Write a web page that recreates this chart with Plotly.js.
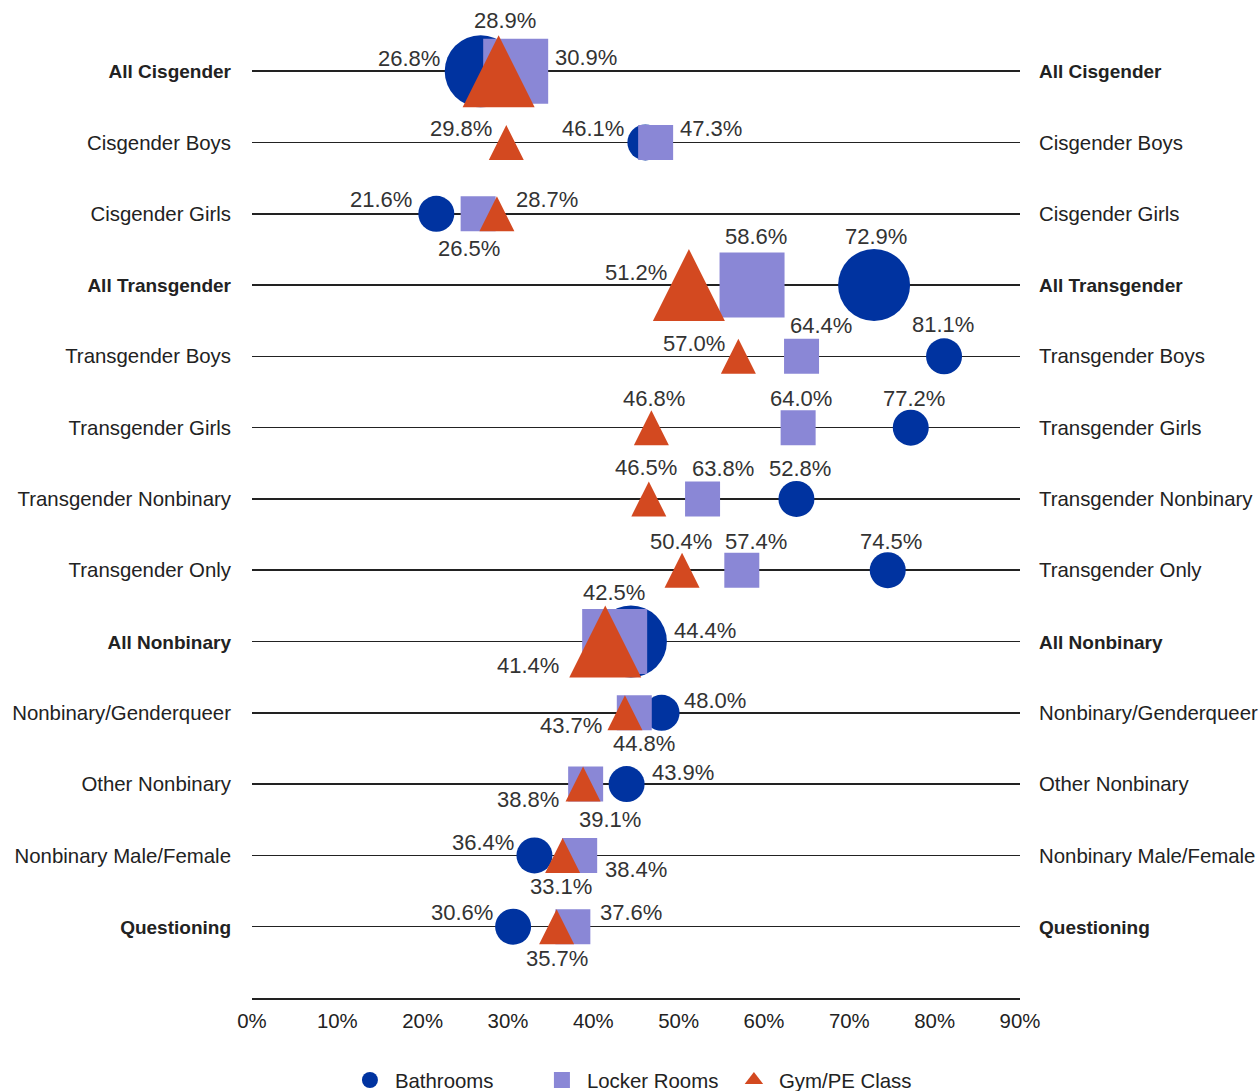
<!DOCTYPE html>
<html><head><meta charset="utf-8">
<script src="https://cdn.plot.ly/plotly-3.0.1.min.js"></script>
<style>html,body{margin:0;padding:0;background:#fff;}#chart{width:1260px;height:1091px;}</style>
</head><body><div id="chart"></div>
<script>
// ---------- DATA ----------
const categories = ["All Cisgender","Cisgender Boys","Cisgender Girls","All Transgender","Transgender Boys","Transgender Girls","Transgender Nonbinary","Transgender Only","All Nonbinary","Nonbinary/Genderqueer","Other Nonbinary","Nonbinary Male/Female","Questioning"];
const boldCategories = ["All Cisgender","All Transgender","All Nonbinary","Questioning"];
const bathrooms   = [26.8, 46.1, 21.6, 72.9, 81.1, 77.2, 63.8, 74.5, 44.4, 48.0, 43.9, 33.1, 30.6];
const lockerRooms = [30.9, 47.3, 26.5, 58.6, 64.4, 64.0, 52.8, 57.4, 42.5, 44.8, 39.1, 38.4, 37.6];
const gymPE       = [28.9, 29.8, 28.7, 51.2, 57.0, 46.8, 46.5, 50.4, 41.4, 43.7, 38.8, 36.4, 35.7];
// value labels as printed next to each marker
const bathroomLabels = ["26.8%","46.1%","21.6%","72.9%","81.1%","77.2%","52.8%","74.5%","44.4%","48.0%","43.9%","36.4%","30.6%"];
const lockerLabels   = ["30.9%","47.3%","26.5%","58.6%","64.4%","64.0%","63.8%","57.4%","42.5%","44.8%","39.1%","38.4%","37.6%"];
const gymLabels      = ["28.9%","29.8%","28.7%","51.2%","57.0%","46.8%","46.5%","50.4%","41.4%","43.7%","38.8%","33.1%","35.7%"];
const seriesNames = ["Bathrooms","Locker Rooms","Gym/PE Class"];
const xTickVals = [0,10,20,30,40,50,60,70,80,90];

// ---------- STYLE / PLACEMENT ----------
const W = 1260, H = 1091;
const M = {l:252, r:240, t:7, b:93};
const yRange = [13.0, -0.9];
const unitPx = (H - M.t - M.b) / Math.abs(yRange[0]-yRange[1]);
const colors = {bath:"#0033a0", locker:"#8a87d6", gym:"#d34920"};
const isTotal = categories.map(c => c.startsWith("All "));
const circleSize = isTotal.map(t => t ? 72 : 36);
const squareSize = isTotal.map(t => t ? 65 : 35);
const triSize    = isTotal.map(t => t ? 72 : 35);
// [anchor, dx, dy] pixel placement of each value label relative to its marker
const bathPos = [["right",-40,-13],["right",-20,-14],["right",-23,-14],["center",2,-49],["center",-1,-32],["center",3,-29],["center",4,-30],["center",3,-29],["left",42,-11],["left",21,-12],["left",24,-12],["right",-19,-13],["right",-19,-14]];
const lockerPos = [["left",38,-14],["left",23,-14],["center",-9,35],["center",4,-49],["center",19,-31],["center",3,-29],["center",20,-30],["center",14,-29],["center",-1,-49],["center",10,31],["center",24,35],["left",24,14],["left",26,-14]];
const gymPos = [["center",6,-51],["right",-13,-14],["left",18,-14],["right",-21,-13],["right",-12,-13],["center",3,-29],["center",-3,-31],["center",-1,-29],["right",-45,24],["right",-22,13],["right",-23,15],["center",-2,31],["center",0,32]];

const rowIdx = categories.map((c,i) => i);
const tickText = categories.map(c => boldCategories.includes(c)
  ? `<span style="font-size:19px"><b>${c}</b></span>`
  : c);

const traces = [
  {type:"scatter", mode:"markers", x:bathrooms, y:rowIdx, showlegend:false, hoverinfo:"skip", cliponaxis:false,
   marker:{symbol:"circle", size:circleSize, color:colors.bath, opacity:1, line:{width:0}}},
  {type:"scatter", mode:"markers", x:lockerRooms, y:rowIdx, showlegend:false, hoverinfo:"skip", cliponaxis:false,
   marker:{symbol:"square", size:squareSize, color:colors.locker, opacity:1, line:{width:0}}},
  {type:"scatter", mode:"markers", x:gymPE, y:rowIdx.map((r,i) => r - (triSize[i]/2)/unitPx), showlegend:false, hoverinfo:"skip", cliponaxis:false,
   marker:{symbol:"arrow-up", size:triSize, color:colors.gym, opacity:1, line:{width:0}}},
  // legend entries
  {type:"scatter", mode:"markers", x:[null], y:[null], name:seriesNames[0], marker:{symbol:"circle", size:16, color:colors.bath, opacity:1}},
  {type:"scatter", mode:"markers", x:[null], y:[null], name:seriesNames[1], marker:{symbol:"square", size:16, color:colors.locker, opacity:1}},
  {type:"scatter", mode:"markers", x:[null], y:[null], name:seriesNames[2], marker:{symbol:"triangle-up", size:16, color:colors.gym, opacity:1}},
  // right-side axis carrier
  {type:"scatter", mode:"markers", x:[null], y:[null], yaxis:"y2", showlegend:false, hoverinfo:"skip"}
];

const labelFont = {family:"Liberation Sans, Arial, sans-serif", size:22, color:"#333"};
const annotations = [];
function addLabels(vals, labels, pos){
  vals.forEach((v,i) => {
    const [anchor, dx, dy] = pos[i];
    annotations.push({x:v, y:i, xref:"x", yref:"y", text:labels[i], showarrow:false,
      xanchor:anchor, yanchor:"middle", xshift:dx, yshift:-dy, font:labelFont, borderpad:0});
  });
}
addLabels(bathrooms, bathroomLabels, bathPos);
addLabels(lockerRooms, lockerLabels, lockerPos);
addLabels(gymPE, gymLabels, gymPos);

const yCommon = {range:yRange, tickmode:"array", tickvals:rowIdx, ticktext:tickText, zeroline:false,
  ticks:"", tickfont:{family:"Liberation Sans, Arial, sans-serif", size:20.4, color:"#222"}, fixedrange:true};

const layout = {
  width:W, height:H,
  margin:{l:M.l, r:M.r, t:M.t, b:M.b, autoexpand:false},
  paper_bgcolor:"#fff", plot_bgcolor:"#fff",
  showlegend:true,
  legend:{orientation:"h", x:0.121, xanchor:"left", y:-0.083, yanchor:"middle",
    font:{family:"Liberation Sans, Arial, sans-serif", size:20.4, color:"#222"}, itemwidth:40,
    entrywidth:137, entrywidthmode:"pixels", traceorder:"normal"},
  xaxis:{range:[0,90], tickmode:"array", tickvals:xTickVals, ticktext:xTickVals.map(v => v+"%"),
    showgrid:false, zeroline:false, showline:true, linecolor:"#222", linewidth:2, ticks:"",
    ticklabelstandoff:4, tickfont:{family:"Liberation Sans, Arial, sans-serif", size:20.4, color:"#222"}, fixedrange:true},
  yaxis:Object.assign({}, yCommon, {showgrid:true, gridcolor:"#222", gridwidth:1.5, side:"left", ticklabelstandoff:20}),
  yaxis2:Object.assign({}, yCommon, {overlaying:"y", side:"right", showgrid:false, ticklabelstandoff:18}),
  annotations:annotations,
  hovermode:false
};

Plotly.newPlot("chart", traces, layout, {displayModeBar:false, staticPlot:true});
</script></body></html>
